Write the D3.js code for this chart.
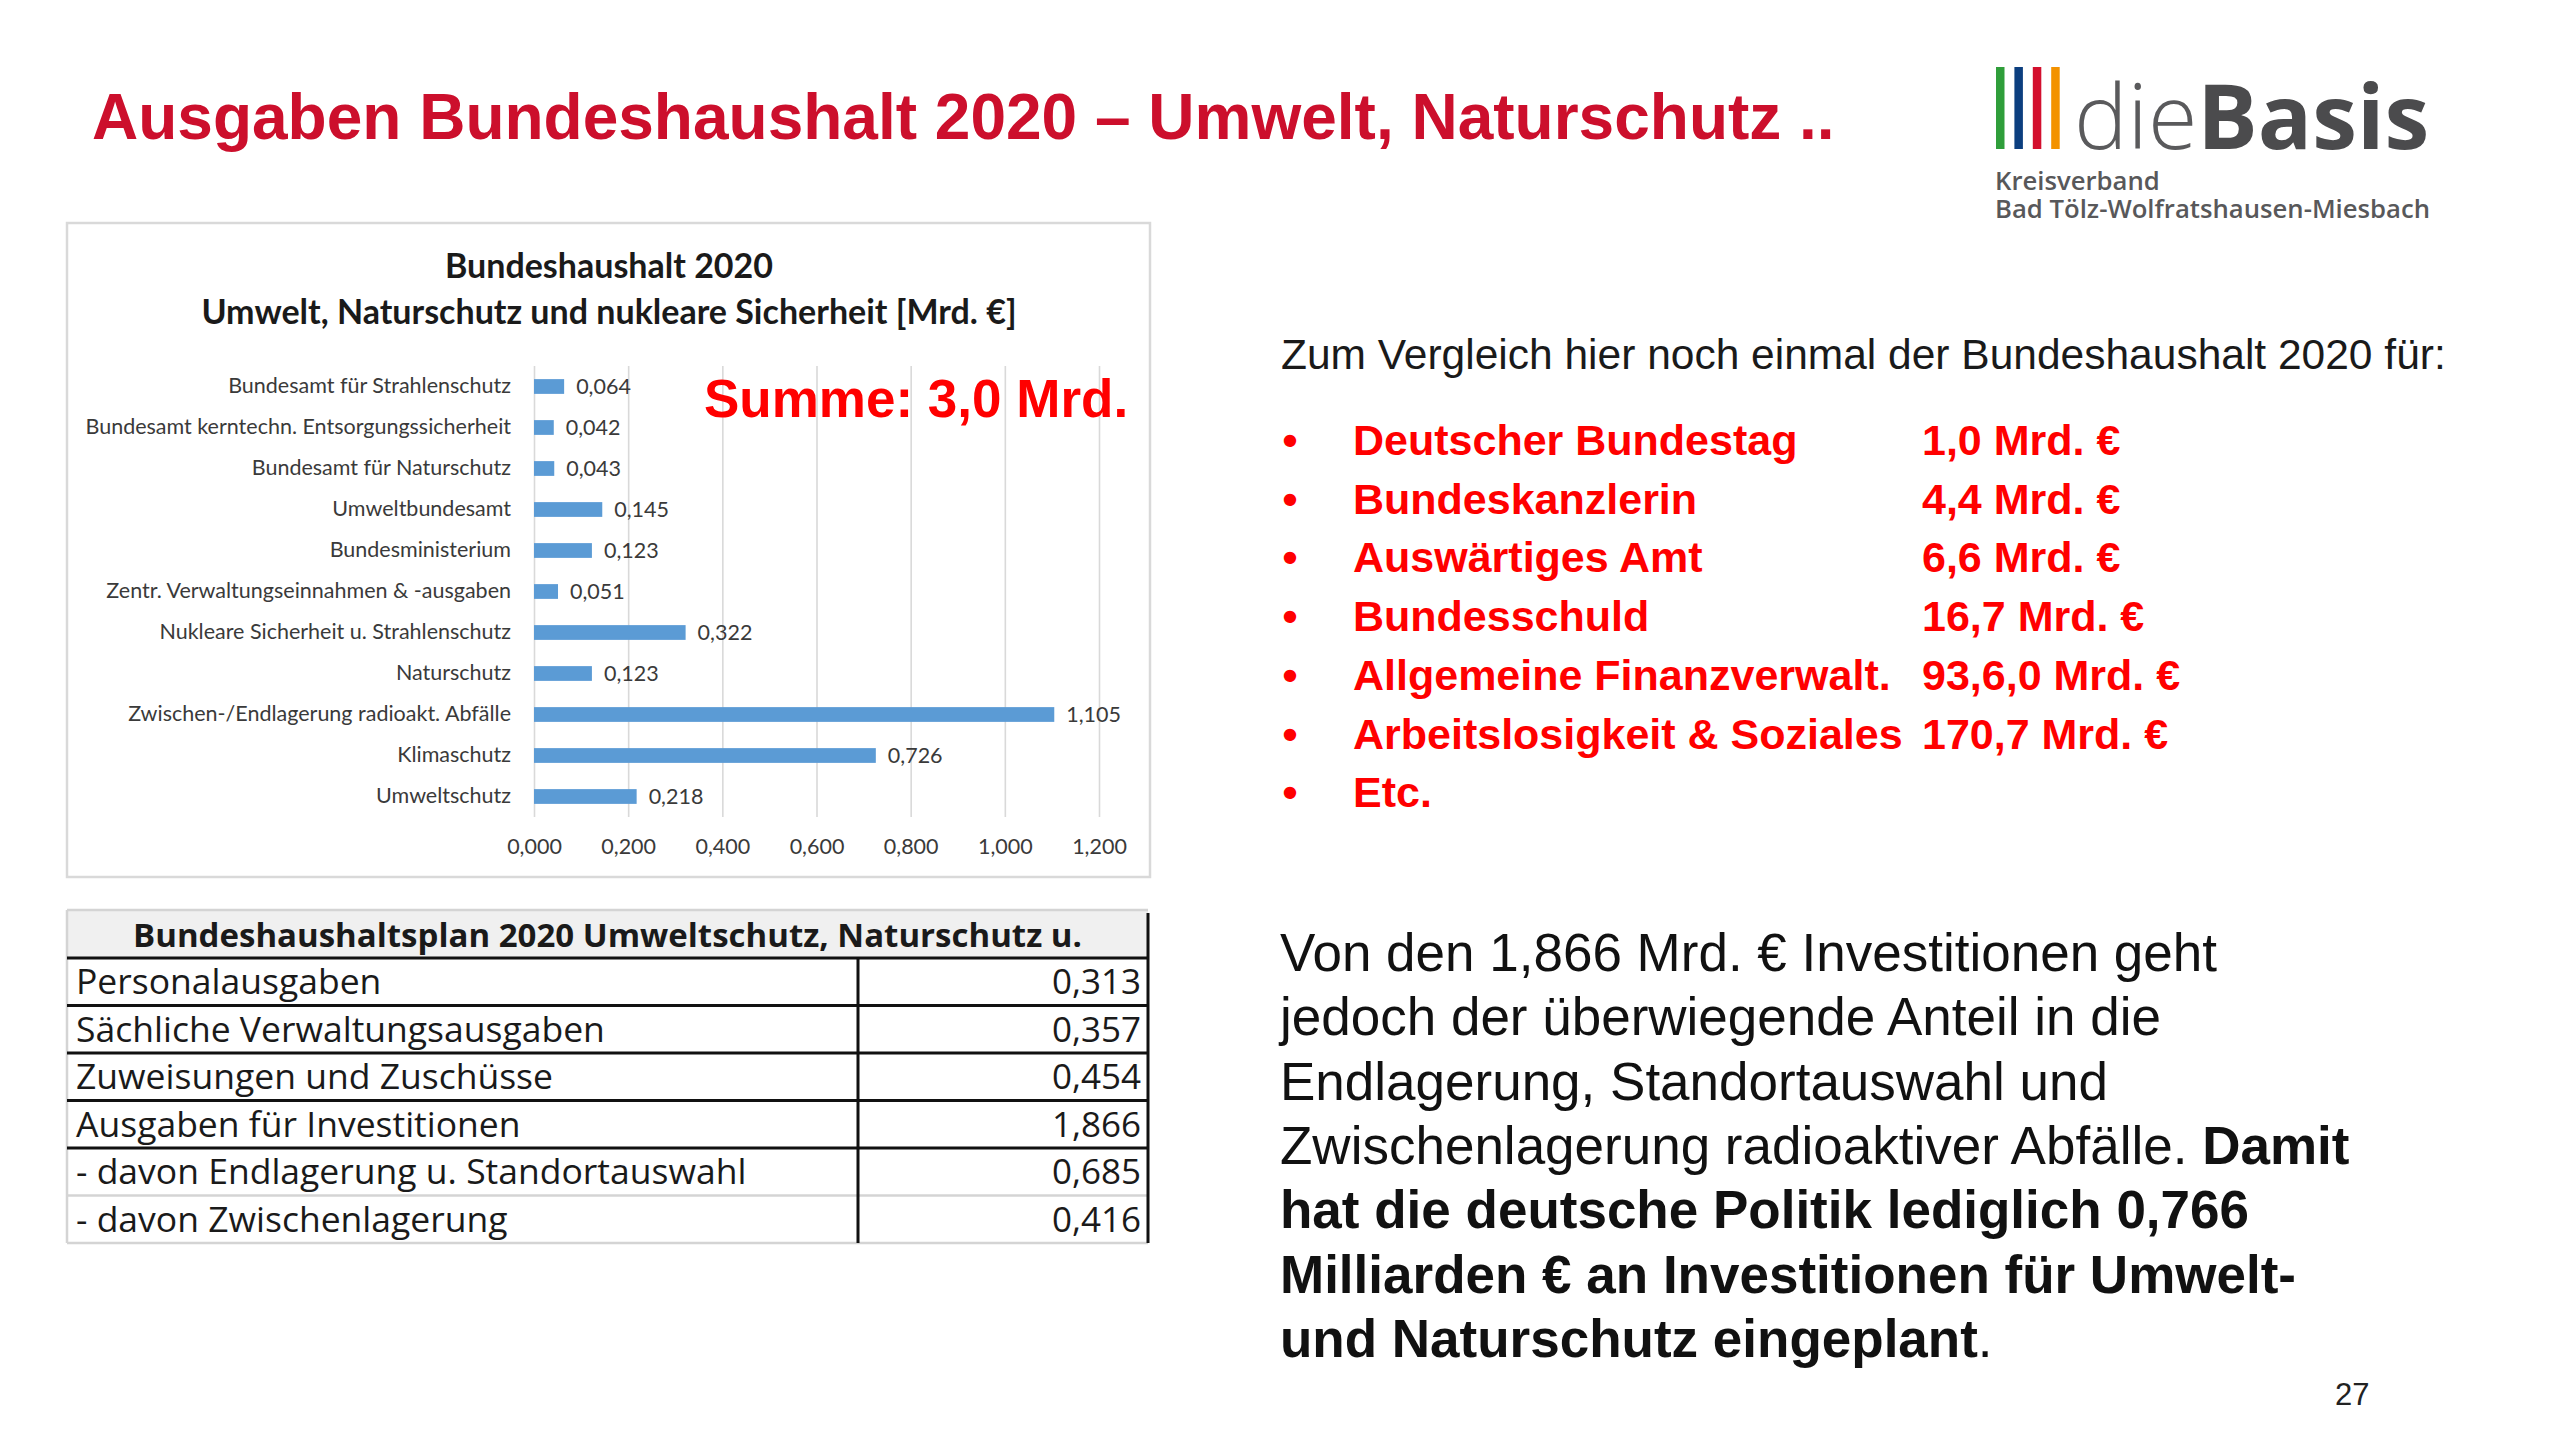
<!DOCTYPE html>
<html>
<head>
<meta charset="utf-8">
<script src="https://cdn.jsdelivr.net/npm/d3@7"></script>
<style>
  html, body { margin: 0; padding: 0; background: #fff; }
</style>
</head>
<body>
<div id="container"></div>
<script>
    // Data
    let categories = [
        "Bundesamt für Strahlenschutz",
        "Bundesamt kerntechn. Entsorgungssicherheit",
        "Bundesamt für Naturschutz",
        "Umweltbundesamt",
        "Bundesministerium",
        "Zentr. Verwaltungseinnahmen & -ausgaben",
        "Nukleare Sicherheit u. Strahlenschutz",
        "Naturschutz",
        "Zwischen-/Endlagerung radioakt. Abfälle",
        "Klimaschutz",
        "Umweltschutz"
    ];
    let values = [0.064, 0.042, 0.043, 0.145, 0.123, 0.051, 0.322, 0.123, 1.105, 0.726, 0.218];
    let xTicks = [0, 0.2, 0.4, 0.6, 0.8, 1.0, 1.2];

    let tableRows = [
        "Personalausgaben",
        "Sächliche Verwaltungsausgaben",
        "Zuweisungen und Zuschüsse",
        "Ausgaben für Investitionen",
        "- davon Endlagerung u. Standortauswahl",
        "- davon Zwischenlagerung"
    ];
    let tableValues = [0.313, 0.357, 0.454, 1.866, 0.685, 0.416];

    let compareItems = [
        "Deutscher Bundestag",
        "Bundeskanzlerin",
        "Auswärtiges Amt",
        "Bundesschuld",
        "Allgemeine Finanzverwalt.",
        "Arbeitslosigkeit & Soziales",
        "Etc."
    ];
    let compareValues = ["1,0 Mrd. €", "4,4 Mrd. €", "6,6 Mrd. €", "16,7 Mrd. €", "93,6,0 Mrd. €", "170,7 Mrd. €", ""];

    let paragraph = [
        [{ t: "Von den 1,866 Mrd. € Investitionen geht", b: false }],
        [{ t: "jedoch der überwiegende Anteil in die", b: false }],
        [{ t: "Endlagerung, Standortauswahl und", b: false }],
        [{ t: "Zwischenlagerung radioaktiver Abfälle. ", b: false }, { t: "Damit", b: true }],
        [{ t: "hat die deutsche Politik lediglich 0,766", b: true }],
        [{ t: "Milliarden € an Investitionen für Umwelt-", b: true }],
        [{ t: "und Naturschutz eingeplant", b: true }, { t: ".", b: false }]
    ];

    const ARIAL = "'Liberation Sans', Arial, sans-serif";
    const CAL = "Lato, 'Open Sans', sans-serif";
    const OPEN = "'Open Sans', sans-serif";

    let de = d3.formatLocale({ decimal: ",", thousands: ".", grouping: [3], currency: ["", " €"] });
    let fmt3 = de.format(".3f");

    let svg = d3.select("#container")
        .append("svg")
        .attr("width", 2560)
        .attr("height", 1439);

    svg.append("rect").attr("width", 2560).attr("height", 1439).attr("fill", "#fff");

    // Slide title
    svg.append("text")
        .attr("x", 92).attr("y", 139)
        .attr("font-family", ARIAL).attr("font-weight", 700).attr("font-size", 64)
        .attr("fill", "#cc0f2c")
        .text("Ausgaben Bundeshaushalt 2020 – Umwelt, Naturschutz ..");

    // Logo (one text block so the tight lines stay together)
    let logo = svg.append("g");
    ["#2f9e3a", "#0c3f7f", "#d3102e", "#f39200"].forEach((c, i) => {
        logo.append("rect").attr("x", 1996 + i * 18.4).attr("y", 67)
            .attr("width", 8.5).attr("height", 82).attr("fill", c);
    });
    let logoText = logo.append("text").attr("x", 2074).attr("y", 149)
        .attr("font-family", OPEN).attr("fill", "#4b4b4d");
    logoText.append("tspan").attr("font-size", 90).attr("font-weight", 300).attr("fill", "#5a5a5c").text("die");
    logoText.append("tspan").attr("font-size", 90).attr("font-weight", 700).text("Basis");
    logoText.append("tspan").attr("x", 1995).attr("y", 190)
        .attr("font-size", 25.7).attr("font-weight", 600).attr("fill", "#58585a").text("Kreisverband");
    logoText.append("tspan").attr("x", 1995).attr("y", 218)
        .attr("font-size", 25.7).attr("font-weight", 600).attr("fill", "#58585a").text("Bad Tölz-Wolfratshausen-Miesbach");

    // Chart frame
    let chart = svg.append("g");
    chart.append("rect")
        .attr("x", 67).attr("y", 223).attr("width", 1083).attr("height", 654)
        .attr("fill", "#fff").attr("stroke", "#d9d9d9").attr("stroke-width", 2.5);

    chart.append("text").attr("x", 609).attr("y", 278)
        .attr("text-anchor", "middle").attr("font-family", CAL).attr("font-weight", 700)
        .attr("font-size", 34).attr("fill", "#1a1a1a").text("Bundeshaushalt 2020");
    chart.append("text").attr("x", 609).attr("y", 324)
        .attr("text-anchor", "middle").attr("font-family", CAL).attr("font-weight", 700)
        .attr("font-size", 34).attr("fill", "#1a1a1a").text("Umwelt, Naturschutz und nukleare Sicherheit [Mrd. €]");

    let x = d3.scaleLinear().domain([0, 1.2]).range([534, 1099]);
    let y = d3.scaleBand().domain(categories).range([366, 817])
        .paddingInner(0.64).paddingOuter(0.32);

    // Gridlines
    chart.append("g")
        .attr("transform", "translate(0,817)")
        .call(d3.axisBottom(x).tickValues(xTicks).tickSize(-(817 - 366)).tickFormat(""))
        .call(g => g.select(".domain").remove())
        .call(g => g.selectAll("line").attr("stroke", "#d9d9d9").attr("stroke-width", 1.6));

    // Bars
    chart.append("g").selectAll("rect")
        .data(categories)
        .join("rect")
        .attr("x", x(0))
        .attr("y", d => y(d))
        .attr("width", (d, i) => x(values[i]) - x(0))
        .attr("height", y.bandwidth())
        .attr("fill", "#5b9bd5");

    // Value labels
    chart.append("g").selectAll("text")
        .data(categories)
        .join("text")
        .attr("x", (d, i) => x(values[i]) + 12)
        .attr("y", d => y(d) + y.bandwidth() / 2)
        .attr("dy", "0.36em")
        .attr("font-family", CAL).attr("font-size", 21.5).attr("fill", "#3a3a3a")
        .text((d, i) => fmt3(values[i]));

    // Category axis
    chart.append("g")
        .attr("transform", `translate(${x(0)},0)`)
        .call(d3.axisLeft(y).tickSize(0).tickPadding(23))
        .call(g => g.select(".domain").remove())
        .call(g => g.selectAll("text").attr("font-family", CAL).attr("font-size", 21.5).attr("fill", "#3a3a3a"));

    // Value axis
    chart.append("g")
        .attr("transform", "translate(0,817)")
        .call(d3.axisBottom(x).tickValues(xTicks).tickSize(0).tickPadding(22).tickFormat(fmt3))
        .call(g => g.select(".domain").remove())
        .call(g => g.selectAll("text").attr("font-family", CAL).attr("font-size", 21.5).attr("fill", "#3a3a3a"));

    chart.append("text").attr("x", 704).attr("y", 417)
        .attr("font-family", ARIAL).attr("font-weight", 700).attr("font-size", 53)
        .attr("fill", "#ff0000").text("Summe: 3,0 Mrd.");

    // Table
    let tbl = svg.append("g");
    let tx0 = 67, tx1 = 1148, tdiv = 858, ty0 = 910, th = 48, rh = 47.5;
    let ty = d3.scaleLinear().domain([0, tableRows.length]).range([ty0 + th, ty0 + th + rh * tableRows.length]);
    tbl.append("rect").attr("x", tx0).attr("y", ty0).attr("width", tx1 - tx0).attr("height", th).attr("fill", "#f0f0f0");
    tbl.append("text").attr("x", (tx0 + tx1) / 2).attr("y", ty0 + 37)
        .attr("text-anchor", "middle").attr("font-family", OPEN).attr("font-weight", 700)
        .attr("font-size", 33).attr("fill", "#1a1a1a")
        .text("Bundeshaushaltsplan 2020 Umweltschutz, Naturschutz u.");
    tbl.append("line").attr("x1", tx0).attr("x2", tx1).attr("y1", ty0).attr("y2", ty0)
        .attr("stroke", "#d4d4d4").attr("stroke-width", 2.5);
    tbl.append("line").attr("x1", tx0).attr("x2", tx0).attr("y1", ty0).attr("y2", ty(tableRows.length))
        .attr("stroke", "#d4d4d4").attr("stroke-width", 2.5);
    tbl.selectAll("line.row")
        .data(d3.range(tableRows.length + 1))
        .join("line").attr("class", "row")
        .attr("x1", tx0).attr("x2", tx1)
        .attr("y1", i => ty(i)).attr("y2", i => ty(i))
        .attr("stroke", i => i >= 5 ? "#d4d4d4" : "#111")
        .attr("stroke-width", i => i >= 5 ? 2.5 : 3);
    tbl.append("line").attr("x1", tdiv).attr("x2", tdiv).attr("y1", ty(0)).attr("y2", ty(tableRows.length))
        .attr("stroke", "#111").attr("stroke-width", 3);
    tbl.append("line").attr("x1", tx1).attr("x2", tx1).attr("y1", ty0 + 3).attr("y2", ty(tableRows.length))
        .attr("stroke", "#111").attr("stroke-width", 3);
    tbl.selectAll("text.lab")
        .data(tableRows)
        .join("text").attr("class", "lab")
        .attr("x", 76).attr("y", (d, i) => ty(i) + 36)
        .attr("font-family", OPEN).attr("font-size", 35.5).attr("fill", "#1a1a1a")
        .text(d => d);
    tbl.selectAll("text.val")
        .data(tableValues)
        .join("text").attr("class", "val")
        .attr("x", 1141).attr("y", (d, i) => ty(i) + 36)
        .attr("text-anchor", "end")
        .attr("font-family", OPEN).attr("font-size", 35).attr("fill", "#1a1a1a")
        .text(d => fmt3(d));

    // Right column
    let right = svg.append("g");
    right.append("text").attr("x", 1281).attr("y", 369)
        .attr("font-family", ARIAL).attr("font-size", 42.5).attr("fill", "#1a1a1a")
        .text("Zum Vergleich hier noch einmal der Bundeshaushalt 2020 für:");

    let ly = d3.scaleLinear().domain([0, 1]).range([455, 513.7]);
    right.selectAll("text.bul")
        .data(compareItems)
        .join("text").attr("class", "bul")
        .attr("x", 1290).attr("y", (d, i) => ly(i))
        .attr("text-anchor", "middle")
        .attr("font-family", ARIAL).attr("font-weight", 700).attr("font-size", 43).attr("fill", "#ff0000")
        .text("•");
    right.selectAll("text.item")
        .data(compareItems)
        .join("text").attr("class", "item")
        .attr("x", 1353).attr("y", (d, i) => ly(i))
        .attr("font-family", ARIAL).attr("font-weight", 700).attr("font-size", 43).attr("fill", "#ff0000")
        .text(d => d);
    right.selectAll("text.amt")
        .data(compareValues)
        .join("text").attr("class", "amt")
        .attr("x", 1922).attr("y", (d, i) => ly(i))
        .attr("font-family", ARIAL).attr("font-weight", 700).attr("font-size", 43).attr("fill", "#ff0000")
        .text(d => d);

    let py = d3.scaleLinear().domain([0, 1]).range([971, 1035.3]);
    paragraph.forEach((line, i) => {
        let t = right.append("text").attr("x", 1280).attr("y", py(i))
            .attr("font-family", ARIAL).attr("font-size", 53).attr("fill", "#111");
        line.forEach(seg => {
            t.append("tspan").attr("font-weight", seg.b ? 700 : 400).text(seg.t);
        });
    });

    svg.append("text").attr("x", 2335).attr("y", 1405)
        .attr("font-family", ARIAL).attr("font-size", 31).attr("fill", "#222")
        .text("27");
</script>
</body>
</html>
